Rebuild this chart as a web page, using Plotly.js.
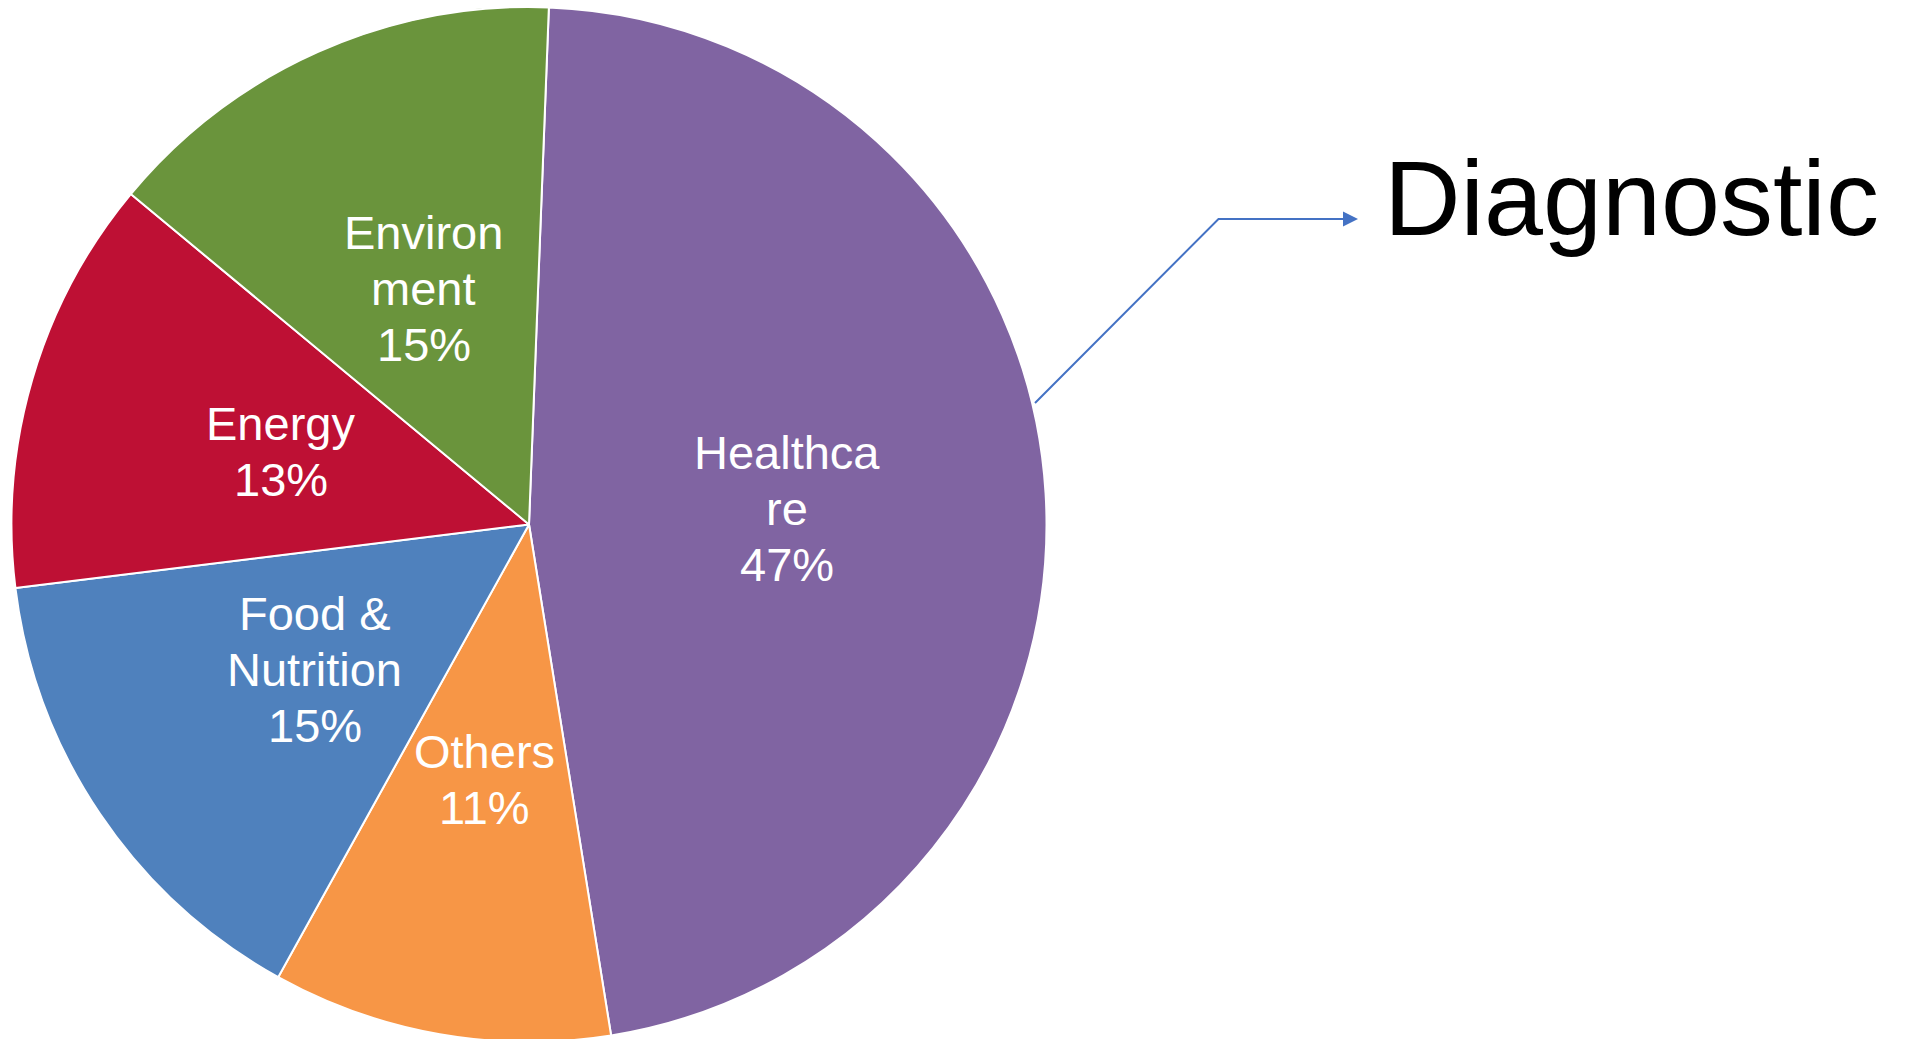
<!DOCTYPE html>
<html><head><meta charset="utf-8">
<script src="https://cdn.plot.ly/plotly-3.0.1.min.js"></script>
<style>html,body{margin:0;padding:0;overflow:hidden;background:#fff}</style>
</head><body><div id="chart"></div>
<script>
const categories = ['Healthcare', 'Others', 'Food & Nutrition', 'Energy', 'Environment'];
const labelLines = [['Healthca', 're'], ['Others'], ['Food &', 'Nutrition'], ['Energy'], ['Environ', 'ment']];
const shares = [46.9, 10.6, 15.0, 13.0, 14.6];
const colors = ['#8064A2', '#F79646', '#4F81BD', '#BE1034', '#6A943C'];
const calloutText = 'Diagnostic';

const W = 1909, H = 1050;
const px = x => x / W, py = y => 1 - y / H;
const cx = 529, cy = 524.5, R = 517.5;
const rotation = 2.2;
const FONT = 'Liberation Sans, Arial, sans-serif';

const total = shares.reduce((a, b) => a + b, 0);
const annotations = [];
let start = rotation;
shares.forEach((v, i) => {
  const sweep = v / total * 360;
  const mid = (start + sweep / 2) * Math.PI / 180;
  start += sweep;
  const tx = cx + 0.5 * R * Math.sin(mid);
  const ty = cy - 0.5 * R * Math.cos(mid);
  const lines = labelLines[i].concat([Math.round(v / total * 100) + '%']);
  lines.forEach((t, j) => {
    const ly = ty + (j - (lines.length - 1) / 2) * 56;
    annotations.push({xref: 'paper', yref: 'paper', x: px(tx), y: py(ly), text: t, showarrow: false,
      xanchor: 'center', yanchor: 'middle', font: {family: FONT, size: 47, color: '#ffffff'}});
  });
});

annotations.push({xref: 'paper', yref: 'paper', x: px(1382), y: py(197.5), text: calloutText, showarrow: false,
  xanchor: 'left', yanchor: 'middle', font: {family: FONT, size: 106, color: '#000000'}});
annotations.push({xref: 'paper', yref: 'paper', x: px(1358), y: py(219), ax: -30, ay: 0, text: ' ',
  showarrow: true, arrowhead: 2, arrowsize: 1.5, arrowwidth: 2, arrowcolor: '#4472C4', standoff: 0});

const shapes = [{type: 'path', xref: 'paper', yref: 'paper',
  path: `M ${px(1035)},${py(403)} L ${px(1218.5)},${py(219)} L ${px(1345)},${py(219)}`,
  line: {color: '#4472C4', width: 2}}];

const trace = {
  type: 'pie',
  labels: categories,
  values: shares,
  sort: false,
  direction: 'clockwise',
  rotation: rotation,
  marker: {colors: colors, line: {color: '#ffffff', width: 2}},
  textinfo: 'none',
  hoverinfo: 'none',
  showlegend: false,
  domain: {x: [px(cx - R), px(cx + R)], y: [py(cy + R), py(cy - R)]}
};

Plotly.newPlot('chart', [trace], {
  width: W, height: H,
  margin: {l: 0, r: 0, t: 0, b: 0},
  paper_bgcolor: '#ffffff',
  showlegend: false,
  annotations: annotations,
  shapes: shapes
}, {displayModeBar: false, staticPlot: true});
</script>
</body></html>
